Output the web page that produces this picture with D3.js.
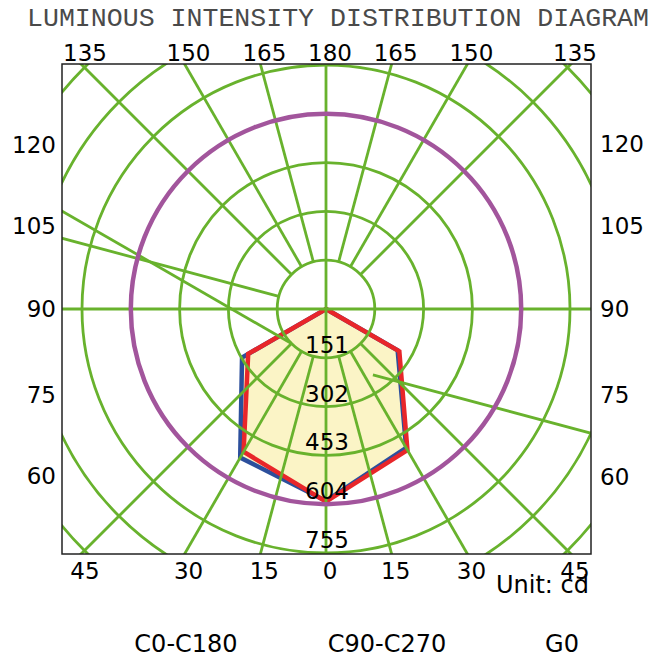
<!DOCTYPE html>
<html lang="en">
<head>
    <meta charset="UTF-8">
    <title>Luminous Intensity Distribution Diagram</title>
    <script src="https://d3js.org/d3.v7.min.js"></script>
    <style>
        body { margin: 0; background: #fff; }
        text { font-family: "DejaVu Sans", Verdana, sans-serif; }
    </style>
</head>
<body>
    <svg width="655" height="657"></svg>
    <script>
        // rings (cd) and which of them get a value label
        const ringValues = [151, 302, 453, 604, 755, 906, 1057];
        const ringLabels = ["151", "302", "453", "604", "755"];
        const highlightRing = 604;

        // spokes, angle measured from nadir, + to the right
        const spokeAngles = [-45, -30, -15, 15, 30, 45, 135, 150, 165, -135, -150, -165, -105];
        // two stray grid lines: start point [angle, cd] and direction angle
        const strayLines = [
            { from: [-45, 151], dir: -120 },
            { from: [35.5, 250], dir: 75 }
        ];

        // tick labels
        const topTicks = [-135, -150, -165, 180, 165, 150, 135];
        const bottomTicks = [-45, -30, -15, 0, 15, 30, 45];
        const leftTicks = [-120, -105, -90, -75, -60];
        const rightTicks = [120, 105, 90, 75, 60];

        // intensity curves (cd) at gamma angles
        const gammas = [0, 30, 60, 90];
        const c0 = [594, 496, 256, 0];
        const c180 = [594, 531, 300, 0];
        const c90 = [596, 504, 262, 0];
        const c270 = [596, 510, 278, 0];

        const legend = ["C0-C180", "C90-C270", "G0"];

        const svg = d3.select("svg");
        const box = { x0: 62, y0: 64, x1: 591, y1: 554 };
        const cx = 326, cy = 309;
        const green = "#68b22d";

        const r = d3.scaleLinear().domain([0, 755]).range([0, 244]);
        const rad = d => d * Math.PI / 180;
        const pt = (phi, v) => [cx + r(v) * Math.sin(rad(phi)), cy + r(v) * Math.cos(rad(phi))];

        svg.append("defs").append("clipPath").attr("id", "box")
            .append("rect")
            .attr("x", box.x0).attr("y", box.y0)
            .attr("width", box.x1 - box.x0).attr("height", box.y1 - box.y0);

        // title
        svg.append("text")
            .attr("x", 27).attr("y", 26)
            .attr("textLength", 622).attr("lengthAdjust", "spacingAndGlyphs")
            .style("font-family", "'Liberation Mono', monospace")
            .style("font-size", "25px")
            .attr("fill", "#4a4a4a")
            .text("LUMINOUS INTENSITY DISTRIBUTION DIAGRAM");

        const plot = svg.append("g").attr("clip-path", "url(#box)");

        // curve fill
        const radial = d3.lineRadial()
            .angle(d => Math.PI - rad(d[0]))
            .radius(d => r(d[1]))
            .curve(d3.curveLinearClosed);

        const shape = (right, left) => {
            const pts = [];
            gammas.forEach((g, i) => pts.push([g, right[i]]));
            pts.reverse();
            gammas.forEach((g, i) => { if (g > 0) pts.push([-g, left[i]]); });
            return pts;
        };
        const blueShape = shape(c0, c180);
        const redShape = shape(c90, c270);

        const curves = plot.append("g").attr("transform", `translate(${cx},${cy})`);
        [blueShape, redShape].forEach(s => {
            curves.append("path").attr("d", radial(s)).attr("fill", "#fbf4c6").attr("stroke", "none");
        });

        // grid
        const grid = plot.append("g").attr("stroke", green).attr("stroke-width", 2.8).attr("fill", "none");
        grid.append("line").attr("x1", box.x0).attr("x2", box.x1).attr("y1", cy).attr("y2", cy);
        grid.append("line").attr("x1", cx).attr("x2", cx).attr("y1", box.y0).attr("y2", box.y1);

        ringValues.filter(v => v !== highlightRing).forEach(v => {
            grid.append("circle").attr("cx", cx).attr("cy", cy).attr("r", r(v));
        });

        spokeAngles.forEach(a => {
            const p0 = pt(a, ringValues[0]), p1 = pt(a, 1400);
            grid.append("line").attr("x1", p0[0]).attr("y1", p0[1]).attr("x2", p1[0]).attr("y2", p1[1]);
        });

        strayLines.forEach(l => {
            const p0 = pt(l.from[0], l.from[1]);
            const len = r(1400);
            grid.append("line")
                .attr("x1", p0[0]).attr("y1", p0[1])
                .attr("x2", p0[0] + len * Math.sin(rad(l.dir)))
                .attr("y2", p0[1] + len * Math.cos(rad(l.dir)));
        });

        plot.append("circle")
            .attr("cx", cx).attr("cy", cy).attr("r", r(highlightRing))
            .attr("fill", "none").attr("stroke", "#a2559c").attr("stroke-width", 4.5);

        // curve outlines
        curves.append("path").attr("d", radial(blueShape))
            .attr("fill", "none").attr("stroke", "#2c4f9c").attr("stroke-width", 4.5).attr("stroke-linejoin", "miter");
        curves.append("path").attr("d", radial(redShape))
            .attr("fill", "none").attr("stroke", "#e8262a").attr("stroke-width", 4.5).attr("stroke-linejoin", "miter");

        // frame
        svg.append("rect")
            .attr("x", box.x0).attr("y", box.y0)
            .attr("width", box.x1 - box.x0).attr("height", box.y1 - box.y0)
            .attr("fill", "none").attr("stroke", "#222").attr("stroke-width", 1.5);

        const tickText = (x, y, t, anchor, size) => svg.append("text")
            .attr("x", x).attr("y", y).attr("text-anchor", anchor)
            .style("font-size", (size || 23) + "px").attr("fill", "#000").text(t);

        // ring value labels
        ringLabels.forEach((t, i) => tickText(cx + 1, cy + r(ringValues[i]) - 5, t, "middle"));

        // angle labels
        topTicks.forEach(a => {
            const x = cx + (cy - box.y0) * Math.tan(rad(180 - a));
            tickText(x + 4, 60.5, Math.abs(a), "middle");
        });
        bottomTicks.forEach(a => {
            const x = cx + (box.y1 - cy) * Math.tan(rad(a));
            tickText(x + 4, 578.5, Math.abs(a), "middle");
        });
        const sideY = (a, dx) => {
            const c = Math.cos(rad(a));
            const hit = cy + dx * c / Math.abs(Math.sin(rad(a)));
            return hit + (c < -0.01 ? -12 : c > 0.01 ? 15 : 0) + 8;
        };
        leftTicks.forEach(a => tickText(56, sideY(a, cx - box.x0), Math.abs(a), "end"));
        rightTicks.forEach(a => tickText(600, sideY(a, box.x1 - cx), Math.abs(a), "start"));

        tickText(589, 592.5, "Unit: cd", "end", 24);

        // legend
        const legendX = d3.scaleOrdinal().domain(legend).range([186, 387, 562]);
        legend.forEach(t => tickText(legendX(t), 651.5, t, "middle", 24));
    </script>
</body>
</html>
